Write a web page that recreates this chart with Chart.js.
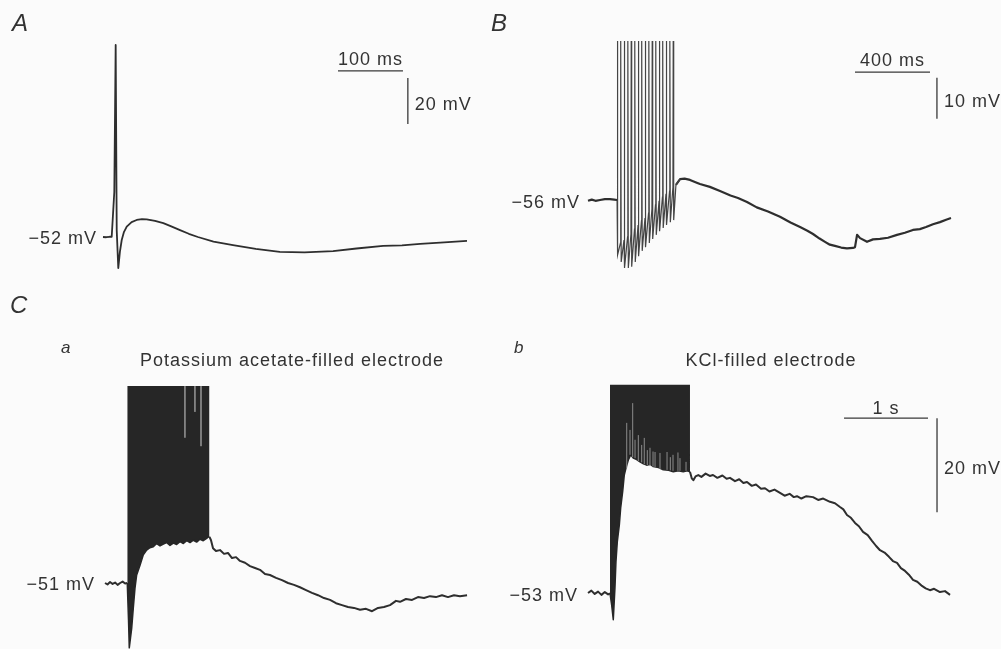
<!DOCTYPE html>
<html><head><meta charset="utf-8">
<script src="https://cdn.jsdelivr.net/npm/chart.js@4.4.1/dist/chart.umd.min.js"></script>
<style>html,body{margin:0;padding:0;background:#fbfbfb;}canvas{display:block;}</style>
</head><body>
<canvas id="c" width="1001" height="649"></canvas>
<script>
// ===== DATA (time in ms, membrane potential in mV) =====
// Panel A: single action potential
const aTime = [0, 5, 10, 13.4, 17.4, 19.5, 21.1, 23.5, 26, 28.8, 32, 36.5, 44, 51.8, 60, 67.2, 80, 92.8, 105, 118.5, 132, 146, 170, 200, 235, 272, 310, 354, 390, 431, 460, 488, 525, 560];
const aVolt = [-52.0, -52.1, -51.9, -51.9, -32.3, 31.5, -49.0, -65.5, -58.5, -53.3, -50.0, -47.5, -45.5, -44.6, -44.2, -44.3, -45.0, -46.0, -47.4, -49.0, -50.6, -52.0, -54.0, -55.5, -57.2, -58.5, -58.7, -58.1, -57.0, -55.9, -55.6, -55.0, -54.3, -53.7];
const aRest = -52;

// Panel B: spike train followed by slow afterpotentials
const bPreTime = [0, 20, 40, 64, 90, 117, 140, 155];
const bPreVolt = [-56.2, -55.9, -56.2, -56.0, -55.8, -55.8, -55.9, -56.0];
const bSpikeTime   = [155, 173, 192, 211, 229, 248, 267, 285, 304, 323, 341, 360, 379, 397, 416, 435, 453];
const bSpikeStart  = [-56.0, -66.5, -65.8, -65.0, -64.3, -63.1, -62.1, -61.1, -60.4, -59.2, -58.2, -57.2, -56.2, -55.3, -54.5, -53.8, -52.9];
const bSpikeTrough = [-69.4, -71.1, -72.6, -72.6, -72.3, -71.1, -69.7, -68.4, -67.5, -66.5, -65.5, -64.5, -63.6, -62.8, -62.1, -61.4, -60.9];
const bSpikePeak = -17.2;
const bPostTime = [469, 491, 515, 544, 570, 597, 650, 704, 760, 800, 848, 900, 960, 1024, 1080, 1131, 1170, 1200, 1235, 1264, 1290, 1317, 1350, 1381, 1413, 1424, 1435, 1451, 1488, 1520, 1557, 1600, 1648, 1690, 1733, 1770, 1803, 1840, 1877, 1910, 1936];
const bPostVolt = [-52.3, -50.9, -50.8, -51.1, -51.6, -52.1, -52.8, -53.8, -54.9, -55.5, -56.5, -57.8, -58.8, -60.1, -61.5, -62.6, -63.5, -64.3, -65.4, -66.2, -66.9, -67.2, -67.6, -67.8, -67.7, -67.5, -64.5, -65.3, -66.2, -65.6, -65.5, -65.2, -64.5, -64.0, -63.3, -63.1, -62.6, -61.9, -61.4, -60.8, -60.4];
const bRest = -56;

// Panel Ca: potassium acetate-filled electrode
const caPreTime = [0, 30, 60, 90, 120, 150, 180, 210, 240, 265];
const caPreVolt = [-51.0, -51.3, -50.8, -51.2, -50.9, -51.4, -51.0, -50.7, -51.1, -51.0];
const caBurstTime = [265, 280, 289, 318, 337, 357, 377, 417, 456, 496, 535, 575, 615, 655, 695, 735, 774, 814, 853, 893, 933, 973, 1012, 1052, 1091, 1131, 1170, 1210, 1230, 1244];
const caBurstLow  = [-51.0, -58.9, -64.8, -60.6, -56.3, -52.1, -49.3, -47.2, -45.0, -44.0, -43.5, -43.3, -42.6, -43.1, -42.7, -42.4, -43.0, -42.5, -42.8, -42.2, -42.6, -42.0, -42.4, -41.9, -42.3, -41.7, -42.0, -41.5, -41.2, -41.2];
const caBurstTop = -9.1;
const caGapTime = [952, 1071, 1143];
const caGapLow  = [-20.1, -14.6, -21.9];
const caPostTime = [1244, 1262, 1286, 1321, 1369, 1417, 1464, 1512, 1560, 1607, 1667, 1726, 1786, 1845, 1905, 1964, 2036, 2107, 2179, 2250, 2321, 2393, 2464, 2536, 2607, 2679, 2750, 2821, 2893, 2964, 3036, 3107, 3179, 3250, 3321, 3393, 3464, 3512, 3583, 3655, 3726, 3798, 3869, 3940, 4012, 4083, 4155, 4226, 4310];
const caPostVolt = [-41.2, -41.9, -43.6, -44.2, -44.0, -44.8, -44.6, -45.7, -45.5, -46.3, -46.7, -47.4, -47.8, -48.2, -49.1, -49.3, -49.9, -50.4, -51.0, -51.4, -51.9, -52.5, -53.1, -53.6, -54.2, -54.6, -55.3, -55.7, -56.1, -56.3, -56.7, -56.5, -57.0, -56.3, -56.1, -55.7, -54.8, -55.0, -54.4, -54.6, -54.0, -54.2, -53.8, -54.0, -53.6, -54.0, -53.6, -53.8, -53.6];
const caRest = -51;

// Panel Cb: KCl-filled electrode
const cbPreTime = [0, 40, 80, 120, 160, 200, 240, 262];
const cbPreVolt = [-53.0, -52.5, -53.2, -52.7, -53.4, -52.8, -53.3, -53.1];
const cbBurstTime = [262, 282, 301, 321, 333, 349, 373, 389, 413, 432, 452, 480, 508, 539, 580, 619, 660, 699, 740, 777, 840, 896, 960, 1015, 1075, 1134, 1180, 1214];
const cbBurstLow  = [-53.1, -55.6, -58.7, -51.9, -46.3, -42.1, -38.5, -34.9, -31.4, -27.9, -26.4, -24.7, -23.6, -24.3, -24.6, -25.1, -25.5, -25.8, -25.6, -26.1, -26.3, -26.8, -26.9, -27.2, -27.0, -27.2, -27.0, -27.2];
const cbBurstTop = -8.7;
const cbSpikeTime = [461, 500, 532, 560, 599, 639, 670, 706, 738, 774, 798, 857, 941, 980, 1012, 1071, 1095, 1167];
const cbSpikeLow  = [-26.4, -23.6, -24.1, -24.3, -24.9, -25.2, -25.6, -25.8, -26.0, -26.1, -26.2, -26.6, -26.8, -26.9, -27.0, -27.0, -27.0, -27.0];
const cbSpikeHigh = [-16.8, -18.3, -12.6, -20.4, -19.4, -21.5, -20.0, -22.6, -22.1, -22.9, -23.0, -23.2, -23.0, -24.1, -23.6, -23.1, -24.3, -25.1];
const cbPostTime = [1214, 1235, 1254, 1280, 1313, 1350, 1400, 1450, 1488, 1540, 1600, 1650, 1690, 1750, 1800, 1850, 1893, 1950, 2000, 2060, 2107, 2160, 2220, 2286, 2340, 2400, 2450, 2488, 2540, 2600, 2679, 2740, 2800, 2881, 2940, 3000, 3040, 3083, 3130, 3179, 3225, 3274, 3330, 3381, 3430, 3476, 3530, 3583, 3630, 3679, 3725, 3774, 3820, 3869, 3920, 3976, 4020, 4071, 4120, 4190, 4250, 4310];
const cbPostVolt = [-27.2, -28.6, -29.0, -28.2, -27.9, -28.3, -27.6, -28.1, -27.9, -28.5, -28.0, -28.7, -28.5, -29.2, -28.8, -29.6, -29.4, -30.2, -29.9, -30.8, -30.7, -31.4, -31.0, -31.7, -32.3, -31.9, -32.6, -32.4, -32.9, -32.4, -32.6, -33.2, -32.9, -33.6, -33.9, -34.7, -35.2, -36.4, -37.0, -38.1, -38.8, -40.0, -40.7, -41.9, -43.0, -43.9, -44.4, -45.3, -46.2, -46.6, -47.7, -48.3, -49.1, -50.2, -50.6, -51.5, -52.0, -52.4, -52.1, -52.8, -52.6, -53.4];
const cbRest = -53;

// Calibration bars
const barA  = {t: 361.5, v: 20.2, ms: 100, mV: 20, vt: 469, vv: 17.1};
const barB  = {t: 1424, v: -24.8, ms: 400, mV: 10, vt: 1861, vv: -26.2};
const barC  = {t: 3048, v: -15.8, ms: 1000, mV: 20, vt: 4155, vv: -15.8};

// ===== LAYOUT (page frames of each panel) =====
const W = 1001, H = 649;
const frames = {
  A:  {x0: 103, kx: 0.65,   y0: 237, base: aRest,  ky: 2.3},
  B:  {x0: 588, kx: 0.1875, y0: 200, base: bRest,  ky: 4.1},
  Ca: {x0: 105, kx: 0.084,  y0: 583, base: caRest, ky: 4.7},
  Cb: {x0: 588, kx: 0.084,  y0: 593, base: cbRest, ky: 4.7}
};
const scales = {};
for (const id in frames) {
  const f = frames[id];
  scales['x' + id] = {type: 'linear', axis: 'x', display: false, bounds: 'data', min: -f.x0 / f.kx, max: (W - f.x0) / f.kx};
  scales['y' + id] = {type: 'linear', axis: 'y', display: false, bounds: 'data', min: f.base - (H - f.y0) / f.ky, max: f.base + f.y0 / f.ky};
}

const zip = (t, v) => t.map((x, i) => ({x, y: v[i]}));
const INK = '#2e2e2e';

function line(id, data, extra) {
  return Object.assign({data, xAxisID: 'x' + id, yAxisID: 'y' + id, borderColor: INK, borderWidth: 1.8,
    pointRadius: 0, tension: 0, fill: false, spanGaps: false, borderJoinStyle: 'round'}, extra || {});
}
function bars(id, b) {
  return line(id, [
    {x: b.t, y: b.v}, {x: b.t + b.ms, y: b.v}, {x: b.t + b.ms, y: null},
    {x: b.vt, y: b.vv}, {x: b.vt, y: b.vv - b.mV}
  ], {borderWidth: 1.3, borderColor: '#3a3a3a', borderJoinStyle: 'miter'});
}
function verticals(times, lows, highs) {
  const out = [];
  times.forEach((t, i) => { out.push({x: t, y: lows[i]}, {x: t, y: highs[i]}, {x: t, y: null}); });
  return out;
}

// Panel B spike train built from the spike tables
const bSpikes = [];
bSpikeTime.forEach((t, i) => {
  bSpikes.push({x: t, y: bSpikeStart[i]}, {x: t + 1.5, y: bSpikePeak}, {x: t + 4, y: bSpikeTrough[i]});
});
bSpikes.push({x: bPostTime[0], y: bPostVolt[0]}, {x: bPostTime[1], y: bPostVolt[1]});

const datasets = [
  line('A', zip(aTime, aVolt), {borderWidth: 1.8}),
  bars('A', barA),
  line('B', zip(bPreTime, bPreVolt), {borderWidth: 2.2}),
  line('B', bSpikes, {borderWidth: 1.2, borderColor: '#444', borderJoinStyle: 'miter'}),
  line('B', zip(bPostTime, bPostVolt), {borderWidth: 2.2}),
  bars('B', barB),
  line('Ca', zip(caPreTime, caPreVolt), {borderWidth: 2}),
  line('Ca', zip(caBurstTime, caBurstLow), {borderWidth: 1.5, borderColor: '#262626', fill: {value: caBurstTop}, backgroundColor: '#262626', order: 2}),
  line('Ca', verticals(caGapTime, caGapLow, caGapTime.map(() => caBurstTop)), {borderWidth: 1, borderColor: '#d0d0d0', order: -1}),
  line('Ca', zip(caPostTime, caPostVolt), {borderWidth: 2}),
  line('Cb', zip(cbPreTime, cbPreVolt), {borderWidth: 2}),
  line('Cb', zip(cbBurstTime, cbBurstLow), {borderWidth: 1.5, borderColor: '#262626', fill: {value: cbBurstTop}, backgroundColor: '#262626', order: 2}),
  line('Cb', verticals(cbSpikeTime, cbSpikeLow, cbSpikeHigh), {borderWidth: 1, borderColor: '#8c8c8c', order: -1}),
  line('Cb', zip(cbPostTime, cbPostVolt), {borderWidth: 2}),
  bars('Cb', barC)
];

const FONT = '"Liberation Sans", Arial, Helvetica, sans-serif';
const labelPlugin = {
  id: 'labels',
  afterDatasetsDraw(chart) {
    const ctx = chart.ctx, s = chart.scales;
    const X = (id, v) => s['x' + id].getPixelForValue(v);
    const Y = (id, v) => s['y' + id].getPixelForValue(v);
    ctx.save();
    ctx.fillStyle = '#333';
    ctx.textBaseline = 'alphabetic';
    try { ctx.letterSpacing = '1px'; } catch (e) {}
    const txt = (str, x, yMid, align, font) => {
      ctx.font = font || ('18px ' + FONT);
      ctx.textAlign = align;
      ctx.fillText(str, x, yMid + 6.5);
    };
    // resting potential labels
    txt('\u221252 mV', X('A', 0) - 6, Y('A', aRest), 'right');
    txt('\u221256 mV', X('B', 0) - 8, Y('B', bRest) + 1, 'right');
    txt('\u221251 mV', X('Ca', 0) - 10, Y('Ca', caRest), 'right');
    txt('\u221253 mV', X('Cb', 0) - 10, Y('Cb', cbRest) + 1, 'right');
    // calibration labels
    const barText = (id, b, tLabel, vLabel, up) => {
      txt(tLabel, (X(id, b.t) + X(id, b.t + b.ms)) / 2, Y(id, b.v) - up, 'center');
      txt(vLabel, X(id, b.vt) + 7, (Y(id, b.vv) + Y(id, b.vv - b.mV)) / 2 + 2, 'left');
    };
    barText('A', barA, '100 ms', '20 mV', 12);
    barText('B', barB, '400 ms', '10 mV', 13);
    barText('Cb', barC, '1 s', '20 mV', 11);
    // panel letters and titles
    const big = 'italic 24px ' + FONT;
    try { ctx.letterSpacing = '0px'; } catch (e) {}
    txt('A', 12, 24, 'left', big);
    txt('B', 491, 24, 'left', big);
    txt('C', 10, 306, 'left', big);
    txt('a', 61, 346, 'left', 'italic 17px ' + FONT);
    txt('b', 514, 346, 'left', 'italic 17px ' + FONT);
    try { ctx.letterSpacing = '1px'; } catch (e) {}
    txt('Potassium acetate-filled electrode', 292, 359, 'center');
    txt('KCl-filled electrode', 771, 359, 'center');
    ctx.restore();
  }
};

new Chart(document.getElementById('c'), {
  type: 'line',
  data: {datasets},
  options: {
    responsive: false, animation: false, devicePixelRatio: 1,
    layout: {padding: 0},
    plugins: {legend: {display: false}, tooltip: {enabled: false}},
    scales
  },
  plugins: [labelPlugin]
});
</script>
</body></html>
